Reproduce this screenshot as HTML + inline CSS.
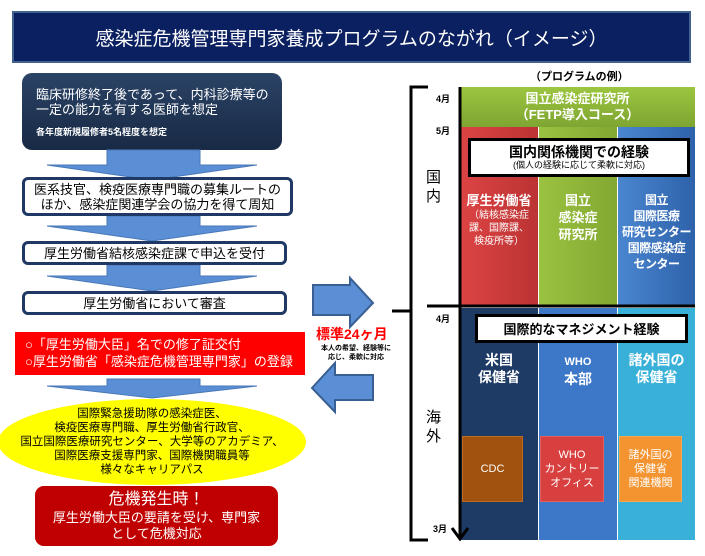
<!DOCTYPE html>
<html><head><meta charset="utf-8"><style>
*{margin:0;padding:0;box-sizing:border-box}
body{width:705px;height:556px;background:#fff;position:relative;overflow:hidden;font-family:"Liberation Sans","Noto Sans CJK JP",sans-serif}
.a{position:absolute}
.c{display:flex;align-items:center;justify-content:center;text-align:center;flex-direction:column}
.wb{background:#fff;border:3px solid #1f3864;border-radius:6px;font-size:13px;color:#000;line-height:15px}
.col{color:#fff;font-weight:bold;font-size:13px;line-height:17px;text-align:center}
.m{font-size:9px;font-weight:bold;color:#000}
</style></head><body>
<div class="a c" style="left:12px;top:11px;width:679px;height:52px;background:#0b2060;border:2px solid #41618f;color:#fff;font-size:19px">感染症危機管理専門家養成プログラムのながれ（イメージ）</div>

<div class="a" style="left:22px;top:73px;width:260px;height:77px;background:linear-gradient(#2b4366,#182a45);border-radius:10px;color:#fff;padding:14px 0 0 14px;font-size:13px;line-height:15px">臨床研修終了後であって、内科診療等の<br>一定の能力を有する医師を想定<div style="font-size:9px;font-weight:bold;margin-top:8px">各年度新規履修者5名程度を想定</div></div>

<svg class="a" style="left:0;top:0" width="705" height="556">
<g fill="#5a8fd6" stroke="#4a78b8">
<polygon points="107,150 200,150 200,165 257,165 152,180 47,165 107,165"/>
<polygon points="107,216 200,216 200,226 257,226 152,241 47,226 107,226"/>
<polygon points="107,265 200,265 200,276 257,276 152,291 47,276 107,276"/>
<polygon points="107,379 200,379 200,386 257,386 152,398 47,386 107,386"/>
<polygon points="313,285 350,285 350,278 373,303 350,327 350,315 313,315" stroke="#3a5f92" stroke-width="2"/>
<polygon points="373,375 335,375 335,363 312,388 335,412 335,400 373,400" stroke="#3a5f92" stroke-width="2"/>
</g>
</svg>

<div class="a c wb" style="left:22px;top:177px;width:271px;height:39px">医系技官、検疫医療専門職の募集ルートの<br>ほか、感染症関連学会の協力を得て周知</div>
<div class="a c wb" style="left:22px;top:241px;width:265px;height:24px">厚生労働省結核感染症課で申込を受付</div>
<div class="a c wb" style="left:22px;top:291px;width:265px;height:24px">厚生労働省において審査</div>

<div class="a" style="left:15px;top:332px;width:290px;height:43px;background:#f00;color:#fff;font-size:13px;line-height:17px;padding:4px 0 0 10px">○「厚生労働大臣」名での修了証交付<br>○厚生労働省「感染症危機管理専門家」の登録</div>

<div class="a c" style="left:-2px;top:399px;width:308px;height:86px;background:#ff0;border-radius:50%;font-size:11.5px;line-height:14px;color:#000">国際緊急援助隊の感染症医、<br>検疫医療専門職、厚生労働省行政官、<br>国立国際医療研究センター、大学等のアカデミア、<br>国際医療支援専門家、国際機関職員等<br>様々なキャリアパス</div>

<div class="a c" style="left:35px;top:486px;width:243px;height:60px;background:#c00000;border-radius:9px;color:#fff;font-size:13px;line-height:16px"><div style="font-size:16px;line-height:20px">危機発生時！</div>厚生労働大臣の要請を受け、専門家<br>として危機対応</div>

<div class="a" style="left:316px;top:324px;color:#f00;font-size:14px;font-weight:bold">標準24ヶ月</div>
<div class="a" style="left:314px;top:344px;width:84px;text-align:center;font-size:7px;line-height:9px;font-weight:bold">本人の希望、経験等に<br>応じ、柔軟に対応</div>

<div class="a" style="left:530px;top:68px;font-size:11px;font-weight:bold">（プログラムの例）</div>

<div class="a" style="left:460px;top:127px;width:78px;height:180px;background:linear-gradient(90deg,#d44,#b33)"></div>
<div class="a" style="left:539px;top:127px;width:78px;height:180px;background:linear-gradient(90deg,#9bc240,#82a832)"></div>
<div class="a" style="left:618px;top:127px;width:77px;height:180px;background:linear-gradient(90deg,#4a86d0,#2e62aa)"></div>
<div class="a c" style="left:460px;top:87px;width:235px;height:40px;background:linear-gradient(#9cc640,#7ea532);color:#fff;font-weight:bold;font-size:13px;line-height:16px">国立感染症研究所<br>（FETP導入コース）</div>
<div class="a c" style="left:468px;top:138px;width:222px;height:39px;background:#fff;border:3px solid #000;font-weight:bold;font-size:14px;line-height:16px">国内関係機関での経験<span style="font-size:9px;font-weight:normal;line-height:11px">(個人の経験に応じて柔軟に対応)</span></div>
<div class="a col" style="left:460px;top:192px;width:78px">厚生労働省<div style="font-weight:normal;font-size:10px;line-height:13px">（結核感染症<br>課、国際課、<br>検疫所等）</div></div>
<div class="a col" style="left:539px;top:192px;width:78px">国立<br>感染症<br>研究所</div>
<div class="a col" style="left:616px;top:192px;width:81px;line-height:16px;font-size:12px;white-space:nowrap;letter-spacing:-0.5px">国立<br>国際医療<br>研究センター<br>国際感染症<br>センター</div>

<div class="a" style="left:460px;top:308px;width:78px;height:232px;background:#1e3b66"></div>
<div class="a" style="left:539px;top:308px;width:78px;height:232px;background:#3d78c8"></div>
<div class="a" style="left:618px;top:308px;width:77px;height:232px;background:#38b0d8"></div>
<div class="a c" style="left:475px;top:314px;width:213px;height:29px;background:#fff;border:3px solid #000;font-weight:bold;font-size:13px">国際的なマネジメント経験</div>
<div class="a col" style="left:460px;top:352px;width:78px;font-size:14px">米国<br>保健省</div>
<div class="a col" style="left:539px;top:352px;width:78px;font-size:14px"><span style="font-size:11px">WHO</span><br>本部</div>
<div class="a col" style="left:618px;top:352px;width:77px;font-size:14px">諸外国の<br>保健省</div>
<div class="a c" style="left:462px;top:436px;width:61px;height:66px;background:#a0520e;color:#fff;font-size:11px;border:1px solid #c06a20">CDC</div>
<div class="a c" style="left:540px;top:436px;width:64px;height:66px;background:#d84040;color:#fff;font-size:11px;line-height:14px;border:1px solid #e06060">WHO<br>カントリー<br>オフィス</div>
<div class="a c" style="left:619px;top:436px;width:63px;height:66px;background:#f39430;color:#fff;font-size:11px;line-height:14px;border:1px solid #f5a850">諸外国の<br>保健省<br>関連機関</div>

<svg class="a" style="left:0;top:0" width="705" height="556">
<g stroke="#000" stroke-width="3" fill="none">
<polyline points="428,87 411,87 411,540 428,540"/>
<line x1="392" y1="311" x2="411" y2="311"/>
<line x1="427" y1="306" x2="695" y2="306"/>
<line x1="460" y1="87" x2="460" y2="538"/>
<polyline points="452,528 460,539 468,528"/>
</g>
</svg>
<div class="a m" style="left:436px;top:92px">4月</div>
<div class="a m" style="left:436px;top:124px">5月</div>
<div class="a m" style="left:436px;top:312px">4月</div>
<div class="a m" style="left:433px;top:522px">3月</div>
<div class="a" style="left:426px;top:168px;font-size:15px;line-height:19px;width:18px">国<br>内</div>
<div class="a" style="left:426px;top:408px;font-size:15px;line-height:19px;width:18px">海<br>外</div>
</body></html>
